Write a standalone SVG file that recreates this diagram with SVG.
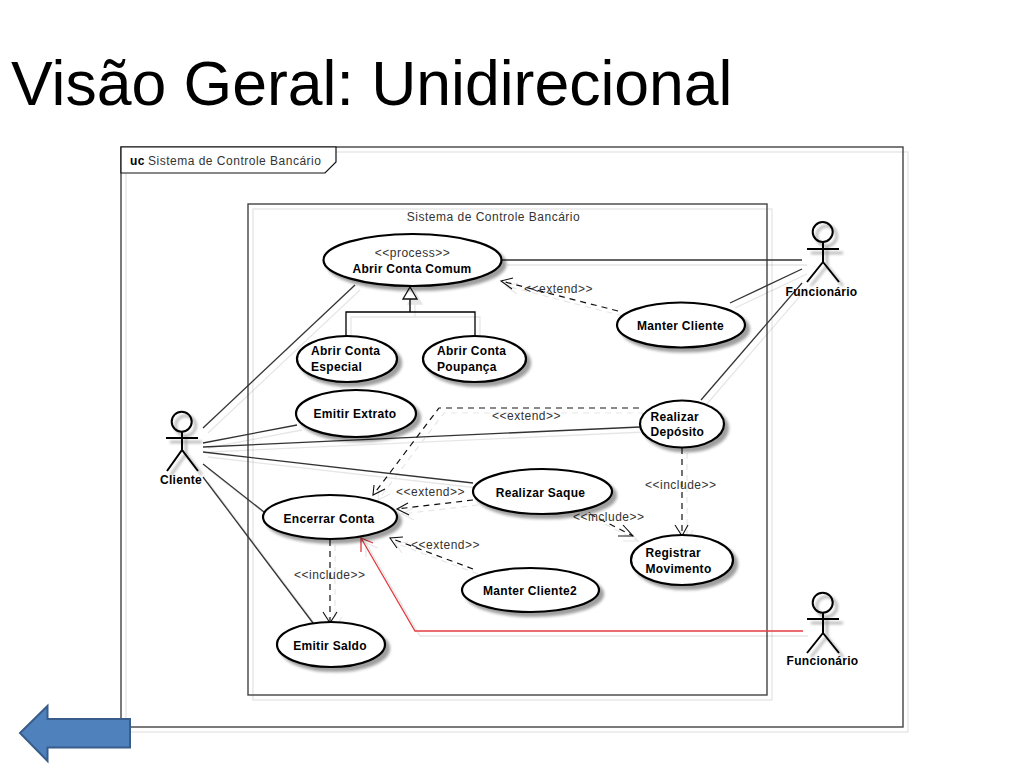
<svg xmlns="http://www.w3.org/2000/svg" width="1024" height="768" viewBox="0 0 1024 768">
<style>
text{font-family:"Liberation Sans",Arial,sans-serif;font-size:12px;fill:#111}
.title{font-size:62.5px;fill:#000}
.b{font-weight:bold;letter-spacing:.3px;fill:#000}
.r{fill:#333;letter-spacing:.5px}
.m{text-anchor:middle}
.frame{fill:none;stroke:#444;stroke-width:1.4}
.uc{fill:#fff;stroke:#111;stroke-width:1.2}
.l,.d,.h,.red,.redh,.g{fill:none}
.l{stroke:#333;stroke-width:1.3}
.d{stroke:#111;stroke-width:1.2;stroke-dasharray:6 5}
.h{stroke:#111;stroke-width:1.1}
.g{stroke:#000;stroke-width:1.3}
.red,.redh{stroke:#e23c40;stroke-width:1.3}
.uc-node{fill:#fff;stroke:#000;stroke-width:2.2;filter:url(#es)}
.actor{fill:none;stroke:#000;stroke-width:2}
.actor-s{filter:url(#es)}
</style>
<defs>
<filter id="ls" x="-5%" y="-5%" width="110%" height="110%">
<feOffset in="SourceAlpha" dx="5" dy="5"/><feComponentTransfer><feFuncA type="linear" slope=".1"/></feComponentTransfer>
<feMerge><feMergeNode/><feMergeNode in="SourceGraphic"/></feMerge>
</filter>
<filter id="es" x="-15%" y="-15%" width="135%" height="140%">
<feOffset in="SourceAlpha" dx="4" dy="4"/><feGaussianBlur stdDeviation="1.6"/><feComponentTransfer><feFuncA type="linear" slope=".38"/></feComponentTransfer>
<feMerge><feMergeNode/><feMergeNode in="SourceGraphic"/></feMerge>
</filter>
</defs>
<rect width="1024" height="768" fill="#fff"/>
<text class="title" x="11" y="105">Visão Geral: Unidirecional</text>
<g id="frames" filter="url(#ls)">
<rect class="frame" x="121" y="147" width="782" height="580"/>
<rect class="frame" x="248" y="204" width="519" height="491"/>
</g>
<g id="frame-tab">
<path class="uc" d="M121 147H336V162L325 173H121Z"/>
<text x="130" y="165" class="b">uc</text>
<text x="148" y="165" class="r">Sistema de Controle Bancário</text>
<text x="493.500" y="221" class="r m">Sistema de Controle Bancário</text>
</g>
<g id="connectors" filter="url(#ls)">
<path class="l" d="M502 260H802"/>
<path class="l" d="M730 303L802 269"/>
<path class="l" d="M701 400L802 283"/>
<path class="l" d="M203 428L355 285"/>
<path class="l" d="M203 443L297 425"/>
<path class="l" d="M203 447L640 427"/>
<path class="l" d="M203 452L473 483"/>
<path class="l" d="M203 464L264 512"/>
<path class="l" d="M203 477L313 623"/>
<path class="d" d="M618 311L501 281"/><path class="h" d="M513 278L501 281L512 289"/>
<path class="d" d="M639 408H439L373 495"/><path class="h" d="M374 485L373 495L385 489"/>
<path class="d" d="M473 500L397 509"/><path class="h" d="M408 503L397 509L409 515"/>
<path class="d" d="M473 569L390 538"/><path class="h" d="M403 537L390 538L397 548"/>
<path class="d" d="M330 540V622"/><path class="h" d="M323 612L330 623L337 612"/>
<path class="d" d="M682 448V535"/><path class="h" d="M675 525L682 536L688 525"/>
<path class="d" d="M590 514L633 536"/><path class="h" d="M623 525L633 536L618 536"/>
<path class="red" d="M803 631H415L361 538"/><path class="redh" d="M361 552L361 538L373 543"/>
<path class="g" d="M346 336V312H475V336M410 312V299"/>
<path fill="#fff" stroke="#111" stroke-width="1.3" d="M410 287L417 299H403Z"/>
</g>
<g id="connector-labels">
<text class="r" x="524" y="293">&lt;&lt;extend&gt;&gt;</text>
<text class="r" x="492" y="420">&lt;&lt;extend&gt;&gt;</text>
<text class="r" x="645" y="489">&lt;&lt;include&gt;&gt;</text>
<text class="r" x="396" y="496">&lt;&lt;extend&gt;&gt;</text>
<text class="r" x="411" y="549">&lt;&lt;extend&gt;&gt;</text>
<text class="r" x="294" y="579">&lt;&lt;include&gt;&gt;</text>
<text class="r" x="573" y="521">&lt;&lt;include&gt;&gt;</text>
</g>
<g id="abrir-conta-comum"><ellipse class="uc-node" cx="412.500" cy="260" rx="89" ry="26"/><text class="r m" x="412.500" y="257">&lt;&lt;process&gt;&gt;</text><text class="b m" x="412" y="273">Abrir Conta Comum</text></g>
<g id="abrir-conta-especial"><ellipse class="uc-node" cx="347" cy="359" rx="50" ry="23"/><text class="b" x="311" y="355">Abrir Conta</text><text class="b" x="311" y="371">Especial</text></g>
<g id="abrir-conta-poupanca"><ellipse class="uc-node" cx="474.500" cy="359" rx="51.500" ry="23"/><text class="b" x="437" y="355">Abrir Conta</text><text class="b" x="437" y="371">Poupança</text></g>
<g id="emitir-extrato"><ellipse class="uc-node" cx="356" cy="413.500" rx="60" ry="23.500"/><text class="b m" x="355" y="418">Emitir Extrato</text></g>
<g id="manter-cliente"><ellipse class="uc-node" cx="681" cy="325" rx="64" ry="22.500"/><text class="b m" x="680.500" y="330">Manter Cliente</text></g>
<g id="realizar-deposito"><ellipse class="uc-node" cx="682" cy="424" rx="42" ry="23.500"/><text class="b" x="650.500" y="421">Realizar</text><text class="b" x="650.500" y="436">Depósito</text></g>
<g id="realizar-saque"><ellipse class="uc-node" cx="542.500" cy="491.500" rx="69.500" ry="22.500"/><text class="b m" x="540.500" y="497">Realizar Saque</text></g>
<g id="encerrar-conta"><ellipse class="uc-node" cx="330" cy="517" rx="67" ry="22"/><text class="b m" x="329" y="523">Encerrar Conta</text></g>
<g id="manter-cliente2"><ellipse class="uc-node" cx="530.500" cy="590" rx="68.500" ry="22"/><text class="b m" x="530" y="595">Manter Cliente2</text></g>
<g id="emitir-saldo"><ellipse class="uc-node" cx="331" cy="644.500" rx="54" ry="22.500"/><text class="b m" x="330" y="650">Emitir Saldo</text></g>
<g id="registrar-movimento"><ellipse class="uc-node" cx="682" cy="560" rx="51" ry="25"/><text class="b" x="645.500" y="557">Registrar</text><text class="b" x="645.500" y="573">Movimento</text></g>
<g id="actor-cliente"><g class="actor-s"><circle class="actor" cx="181.700" cy="421.700" r="10"/><path class="actor" d="M166 438H198M182 432V450M167 471L182 450L198 471"/></g><text class="b m" x="181" y="484">Cliente</text></g>
<g id="actor-funcionario-1"><g class="actor-s"><circle class="actor" cx="822.700" cy="232" r="10"/><path class="actor" d="M807 249H839M823 242V262M807 282L823 262L839 282"/></g><text class="b m" x="821.500" y="296">Funcionário</text></g>
<g id="actor-funcionario-2"><g class="actor-s"><circle class="actor" cx="822.700" cy="602.700" r="10"/><path class="actor" d="M807 619H839M823 613V633M807 653L823 633L839 653"/></g><text class="b m" x="822.500" y="665">Funcionário</text></g>
<g id="back-arrow"><path fill="#4f81bd" stroke="#385d8a" stroke-width="2" d="M20 733L47.500 706V719H130V747.500H47.500V761Z"/></g>
</svg>
